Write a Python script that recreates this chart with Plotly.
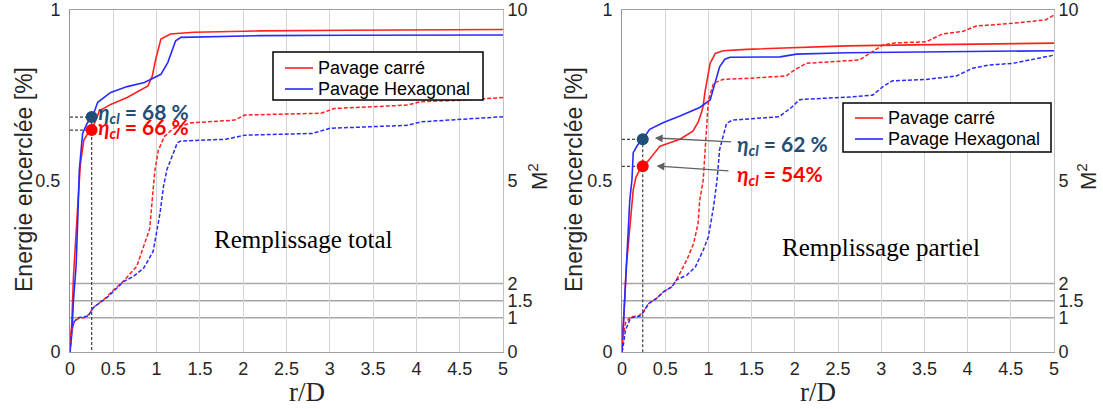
import plotly.graph_objects as go

# ---------------- data ----------------
x_ticks = [0, 0.5, 1, 1.5, 2, 2.5, 3, 3.5, 4, 4.5, 5]
x_tick_text = ["0", "0.5", "1", "1.5", "2", "2.5", "3", "3.5", "4", "4.5", "5"]
e_ticks = [0, 0.5, 1]
e_tick_text = ["0", "0.5", "1"]
m2_ticks = [0, 1, 1.5, 2, 5, 10]
m2_tick_text = ["0", "1", "1.5", "2", "5", "10"]
m2_levels = [1, 1.5, 2]

# Left panel : Remplissage total
L_red_x = [0, 0.02, 0.04, 0.06, 0.09, 0.12, 0.16, 0.22, 0.26, 0.34, 0.47, 0.66, 0.90, 0.95, 0.99, 1.05, 1.16, 1.43, 2.2, 3.2, 4.0, 5.0]
L_red_E = [0.02, 0.08, 0.22, 0.32, 0.43, 0.55, 0.62, 0.645, 0.655, 0.705, 0.724, 0.744, 0.778, 0.807, 0.856, 0.915, 0.93, 0.935, 0.939, 0.941, 0.942, 0.943]
L_blue_x = [0, 0.02, 0.04, 0.07, 0.09, 0.107, 0.146, 0.20, 0.26, 0.32, 0.47, 0.66, 0.86, 1.05, 1.13, 1.22, 1.28, 2.2, 3.2, 5.0]
L_blue_E = [0, 0.05, 0.15, 0.25, 0.39, 0.53, 0.64, 0.67, 0.688, 0.73, 0.759, 0.776, 0.788, 0.812, 0.847, 0.91, 0.92, 0.925, 0.926, 0.927]
L_red_m2_x = [0, 0.02, 0.05, 0.1, 0.16, 0.22, 0.27, 0.34, 0.42, 0.49, 0.62, 0.77, 0.88, 0.92, 0.96, 0.98, 1.02, 1.09, 1.2, 1.4, 1.9, 2.02, 2.9, 3.05, 3.9, 4.05, 4.5, 5.0]
L_red_m2 = [0.27, 0.6, 0.9, 0.98, 1.0, 1.1, 1.3, 1.45, 1.6, 1.78, 2.08, 2.5, 3.3, 3.6, 4.75, 5.3, 5.9, 6.3, 6.55, 6.7, 6.78, 6.93, 6.98, 7.12, 7.22, 7.32, 7.36, 7.44]
L_blue_m2_x = [0, 0.02, 0.05, 0.09, 0.13, 0.21, 0.27, 0.35, 0.43, 0.50, 0.62, 0.73, 0.85, 0.96, 1.0, 1.04, 1.08, 1.12, 1.18, 1.24, 1.28, 1.8, 2.02, 2.8, 3.0, 3.9, 4.05, 5.0]
L_blue_m2 = [0, 0.65, 0.89, 1.0, 1.02, 1.05, 1.3, 1.45, 1.6, 1.77, 2.06, 2.21, 2.45, 2.94, 3.48, 4.07, 4.85, 5.34, 5.73, 6.12, 6.17, 6.22, 6.34, 6.39, 6.54, 6.63, 6.73, 6.88]

# Right panel : Remplissage partiel
R_red_x = [0, 0.02, 0.05, 0.1, 0.13, 0.16, 0.2, 0.24, 0.30, 0.44, 0.67, 0.82, 0.88, 0.92, 0.94, 0.96, 1.02, 1.08, 1.17, 1.44, 2.02, 2.6, 3.37, 4.06, 5.0]
R_red_E = [0.025, 0.1, 0.25, 0.406, 0.474, 0.51, 0.53, 0.543, 0.558, 0.602, 0.622, 0.646, 0.671, 0.70, 0.72, 0.76, 0.844, 0.873, 0.881, 0.885, 0.891, 0.895, 0.898, 0.90, 0.903]
R_blue_x = [0, 0.02, 0.04, 0.06, 0.09, 0.115, 0.13, 0.18, 0.24, 0.32, 0.48, 0.67, 0.90, 1.02, 1.08, 1.13, 1.19, 1.25, 1.83, 2.02, 2.6, 3.94, 5.0]
R_blue_E = [0, 0.1, 0.21, 0.337, 0.444, 0.503, 0.583, 0.605, 0.622, 0.651, 0.671, 0.69, 0.715, 0.737, 0.786, 0.834, 0.856, 0.862, 0.863, 0.871, 0.875, 0.878, 0.881]
R_red_m2_x = [0, 0.04, 0.1, 0.19, 0.25, 0.31, 0.4, 0.48, 0.58, 0.65, 0.75, 0.83, 0.88, 0.9, 0.94, 0.96, 1.0, 1.06, 1.17, 1.44, 1.9, 2.0, 2.13, 2.75, 2.87, 3.02, 3.17, 3.52, 3.71, 3.94, 4.1, 4.52, 4.9, 5.0]
R_red_m2 = [0.25, 0.85, 1.03, 1.05, 1.18, 1.42, 1.57, 1.76, 1.91, 2.2, 2.69, 3.18, 3.76, 4.44, 5.03, 5.92, 7.37, 7.86, 7.97, 8.0, 8.07, 8.25, 8.44, 8.54, 8.73, 8.98, 9.04, 9.07, 9.30, 9.37, 9.53, 9.61, 9.71, 9.85]
R_blue_m2_x = [0, 0.01, 0.04, 0.1, 0.21, 0.25, 0.31, 0.4, 0.48, 0.58, 0.63, 0.75, 0.85, 0.94, 1.0, 1.06, 1.1, 1.13, 1.21, 1.28, 1.82, 1.97, 2.05, 2.1, 2.6, 2.9, 3.02, 3.13, 3.52, 3.87, 4.06, 4.25, 4.52, 4.71, 5.0]
R_blue_m2 = [0, 0.1, 0.64, 1.0, 1.05, 1.18, 1.42, 1.57, 1.76, 1.91, 2.1, 2.25, 2.49, 2.98, 3.37, 4.25, 5.03, 5.92, 6.69, 6.78, 6.88, 7.17, 7.37, 7.39, 7.45, 7.51, 7.76, 7.93, 7.97, 8.07, 8.3, 8.39, 8.44, 8.54, 8.68]

# eta_cl points (r/D, energy) : [blue(hex), red(carre)]
L_eta_x = 0.25
L_eta_E = [0.687, 0.649]
L_eta_txt = ["68 %", "66 %"]
R_eta_x = 0.24
R_eta_E = [0.622, 0.543]
R_eta_txt = ["62 %", "54%"]

series_names = ["Pavage carré", "Pavage Hexagonal"]
panel_titles = ["Remplissage total", "Remplissage partiel"]

RED = "#ff2020"
BLUE = "#2a2aff"
DARKBLUE = "#1f4e79"
SANS = "Liberation Sans, Arial, sans-serif"
SERIF = "Liberation Serif, Times New Roman, serif"
ETAFONT = "Lato, Noto Sans, sans-serif"

W, H = 1103, 409
fig = go.Figure()

panels = [
    dict(xa="x", ya="y", ya2="y2",
         red=(L_red_x, L_red_E), blue=(L_blue_x, L_blue_E),
         redm=(L_red_m2_x, L_red_m2), bluem=(L_blue_m2_x, L_blue_m2),
         ex=L_eta_x, eE=L_eta_E, etxt=L_eta_txt,
         leg_box=(273, 52, 483, 100), leg_rows=(68, 89), leg_line=(285, 313)),
    dict(xa="x2", ya="y3", ya2="y4",
         red=(R_red_x, R_red_E), blue=(R_blue_x, R_blue_E),
         redm=(R_red_m2_x, R_red_m2), bluem=(R_blue_m2_x, R_blue_m2),
         ex=R_eta_x, eE=R_eta_E, etxt=R_eta_txt,
         leg_box=(843, 103, 1051, 152), leg_rows=(118, 139), leg_line=(855, 883)),
]

ann = []
shapes = []

def px_x(v):
    return v / W

def px_y(v):
    return (H - v) / H

for p in panels:
    # dashed M2 curves (right axis)
    fig.add_trace(go.Scatter(x=p["redm"][0], y=p["redm"][1], xaxis=p["xa"], yaxis=p["ya2"],
                             mode="lines", line=dict(color=RED, width=1.5, dash="4px,2px"),
                             showlegend=False, hoverinfo="skip"))
    fig.add_trace(go.Scatter(x=p["bluem"][0], y=p["bluem"][1], xaxis=p["xa"], yaxis=p["ya2"],
                             mode="lines", line=dict(color=BLUE, width=1.5, dash="4px,2px"),
                             showlegend=False, hoverinfo="skip"))
    # dotted guide lines to eta points
    fig.add_trace(go.Scatter(x=[0, p["ex"], None, 0, p["ex"], None, p["ex"], p["ex"]],
                             y=[p["eE"][0], p["eE"][0], None, p["eE"][1], p["eE"][1], None, p["eE"][0], 0],
                             xaxis=p["xa"], yaxis=p["ya"], mode="lines",
                             line=dict(color="#404040", width=1.2, dash="3px,2px"),
                             showlegend=False, hoverinfo="skip"))
    # solid energy curves
    fig.add_trace(go.Scatter(x=p["red"][0], y=p["red"][1], xaxis=p["xa"], yaxis=p["ya"],
                             mode="lines", line=dict(color=RED, width=1.6),
                             name=series_names[0], showlegend=False))
    fig.add_trace(go.Scatter(x=p["blue"][0], y=p["blue"][1], xaxis=p["xa"], yaxis=p["ya"],
                             mode="lines", line=dict(color=BLUE, width=1.6),
                             name=series_names[1], showlegend=False))
    # eta points
    fig.add_trace(go.Scatter(x=[p["ex"], p["ex"]], y=p["eE"], xaxis=p["xa"], yaxis=p["ya"],
                             mode="markers", marker=dict(size=12, color=[DARKBLUE, "#ff0000"]),
                             showlegend=False, hoverinfo="skip"))
    # M2 reference lines
    for lv in m2_levels:
        shapes.append(dict(type="line", xref=p["xa"] + " domain", yref=p["ya2"], x0=0, x1=1, y0=lv, y1=lv,
                           line=dict(color="#a6a6a6", width=1.5), layer="below"))
    # legend box (drawn like the MATLAB legend)
    bx0, by0, bx1, by1 = p["leg_box"]
    shapes.append(dict(type="rect", xref="paper", yref="paper", x0=px_x(bx0), x1=px_x(bx1),
                       y0=px_y(by1), y1=px_y(by0), line=dict(color="black", width=1.5),
                       fillcolor="white", layer="above"))
    for row_y, col, name in zip(p["leg_rows"], [RED, BLUE], series_names):
        shapes.append(dict(type="line", xref="paper", yref="paper", x0=px_x(p["leg_line"][0]),
                           x1=px_x(p["leg_line"][1]), y0=px_y(row_y), y1=px_y(row_y),
                           line=dict(color=col, width=1.6), layer="above"))
        ann.append(dict(x=px_x(p["leg_line"][1] + 3), y=px_y(row_y), xref="paper", yref="paper",
                        text=name, showarrow=False, xanchor="left", yanchor="middle",
                        font=dict(family=SANS, size=18, color="black")))

def eta_label(v):
    return "<b><i>η</i><sub><i>cl</i></sub> = " + v + "</b>"

# left panel eta labels
ann.append(dict(x=0.30, y=0.699, xref="x", yref="y", text=eta_label(L_eta_txt[0]), showarrow=False,
                xanchor="left", yanchor="middle", font=dict(family=ETAFONT, size=21, color=DARKBLUE)))
ann.append(dict(x=0.30, y=0.655, xref="x", yref="y", text=eta_label(L_eta_txt[1]), showarrow=False,
                xanchor="left", yanchor="middle", font=dict(family=ETAFONT, size=21, color="#ff0000")))
# right panel eta labels + arrows
ann.append(dict(x=1.31, y=0.605, xref="x2", yref="y3", text=eta_label(R_eta_txt[0]), showarrow=False,
                xanchor="left", yanchor="middle", font=dict(family=ETAFONT, size=21, color=DARKBLUE)))
ann.append(dict(x=1.31, y=0.518, xref="x2", yref="y3", text=eta_label(R_eta_txt[1]), showarrow=False,
                xanchor="left", yanchor="middle", font=dict(family=ETAFONT, size=21, color="#ff0000")))
ann.append(dict(x=0.38, y=0.626, xref="x2", yref="y3", ax=1.28, ay=0.614, axref="x2", ayref="y3",
                text="", showarrow=True, arrowhead=2, arrowsize=1.2, arrowwidth=1.3, arrowcolor="#606060"))
ann.append(dict(x=0.40, y=0.544, xref="x2", yref="y3", ax=1.25, ay=0.529, axref="x2", ayref="y3",
                text="", showarrow=True, arrowhead=2, arrowsize=1.2, arrowwidth=1.3, arrowcolor="#606060"))
# panel texts
ann.append(dict(x=2.69, y=0.33, xref="x", yref="y", text=panel_titles[0], showarrow=False,
                font=dict(family=SERIF, size=25, color="black")))
ann.append(dict(x=3.0, y=0.307, xref="x2", yref="y3", text=panel_titles[1], showarrow=False,
                font=dict(family=SERIF, size=25, color="black")))
# axis titles (annotations for exact placement)
for off in [0, 550]:
    ann.append(dict(x=px_x(24 + off), y=px_y(180), xref="paper", yref="paper", text="Energie encerclée [%]",
                    textangle=-90, showarrow=False, xanchor="center", yanchor="middle",
                    font=dict(family=SANS, size=23, color="#262626")))
ann.append(dict(x=px_x(538), y=px_y(177), xref="paper", yref="paper", text="M<sup>2</sup>",
                textangle=-90, showarrow=False, xanchor="center", yanchor="middle",
                font=dict(family=SANS, size=22, color="#262626")))
ann.append(dict(x=1.0, y=px_y(177), xref="paper", yref="paper", text="M<sup>2</sup>", xanchor="right",
                textangle=-90, showarrow=False, yanchor="middle",
                font=dict(family=SANS, size=22, color="#262626")))
ann.append(dict(x=px_x((70 + 503) / 2), y=0, xref="paper", yref="paper", text="r/D", yanchor="bottom",
                showarrow=False, font=dict(family=SERIF, size=27, color="#262626")))
ann.append(dict(x=px_x((622 + 1054) / 2), y=0, xref="paper", yref="paper", text="r/D", yanchor="bottom",
                showarrow=False, font=dict(family=SERIF, size=27, color="#262626")))

ydom = [px_y(352), px_y(10)]
tickfont = dict(family=SANS, size=18, color="#262626")

def xax(dom, anchor):
    return dict(domain=dom, anchor=anchor, range=[0, 5], tickvals=x_ticks, ticktext=x_tick_text,
                showgrid=True, gridcolor="#d4d4d4", gridwidth=1, zeroline=False,
                showline=True, linecolor="#a0a0a0", linewidth=1, mirror=True, ticks="",
                ticklabelstandoff=0, tickfont=tickfont, fixedrange=True, automargin=False)

def yax(anchor):
    return dict(domain=ydom, anchor=anchor, range=[0, 1], tickvals=e_ticks, ticktext=e_tick_text,
                showgrid=False, zeroline=False, showline=True, linecolor="#909090", linewidth=1,
                mirror=True, ticks="", ticklabelstandoff=5, tickfont=tickfont, automargin=False)

def y2ax(over, anchor):
    return dict(overlaying=over, anchor=anchor, side="right", range=[0, 10], tickvals=m2_ticks,
                ticktext=m2_tick_text, showgrid=False, zeroline=False, showline=True,
                linecolor="#c0c0c0", linewidth=1, ticks="", tickfont=tickfont, automargin=False)

fig.update_layout(
    width=W, height=H, autosize=False,
    margin=dict(l=0, r=0, t=0, b=0),
    paper_bgcolor="white", plot_bgcolor="white",
    xaxis=xax([px_x(70), px_x(503)], "y"),
    yaxis=yax("x"),
    yaxis2=y2ax("y", "x"),
    xaxis2=xax([px_x(622), px_x(1054)], "y3"),
    yaxis3=yax("x2"),
    yaxis4=y2ax("y3", "x2"),
    showlegend=False,
    shapes=shapes,
    annotations=ann,
    hovermode=False,
)

fig.write_html("out.html", config={"displayModeBar": False},
               post_script="document.body.style.margin='0';")
